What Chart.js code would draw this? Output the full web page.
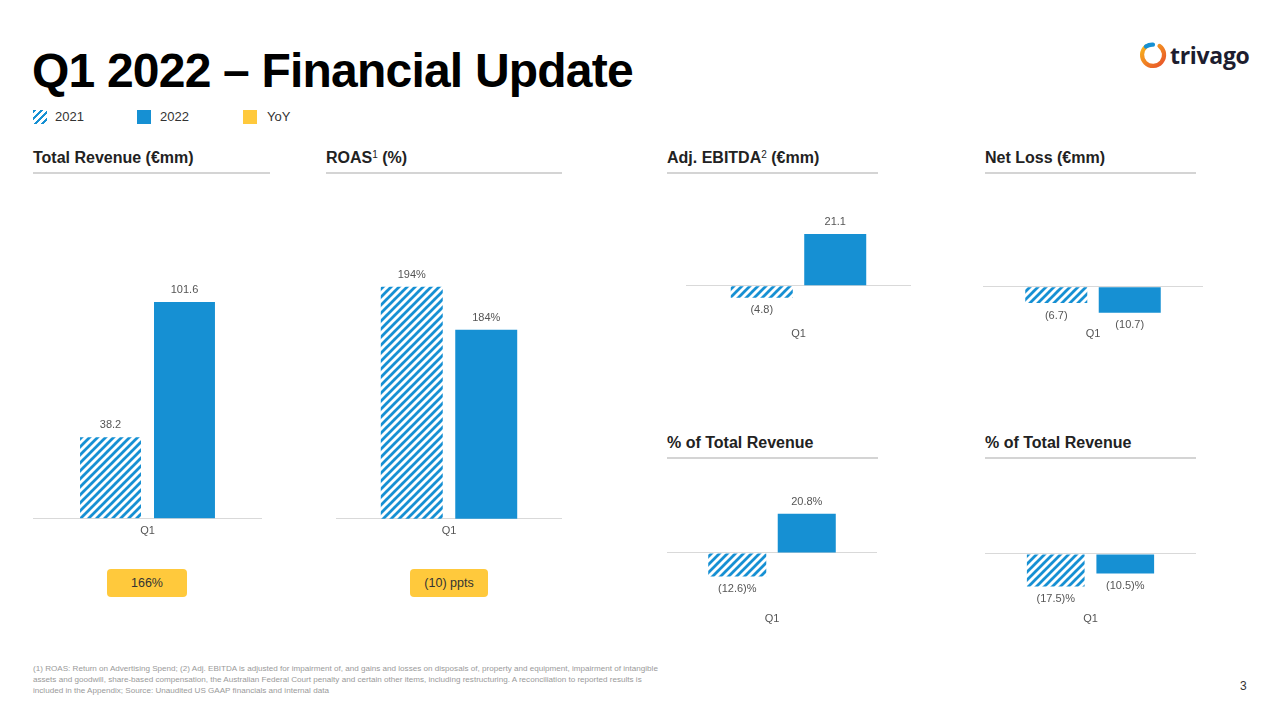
<!DOCTYPE html>
<html><head><meta charset="utf-8">
<script src="https://cdn.jsdelivr.net/npm/chart.js@4/dist/chart.umd.min.js"></script>
<style>
html,body{margin:0;padding:0;background:#fff;}
body{width:1280px;height:720px;position:relative;overflow:hidden;font-family:"Liberation Sans",Arial,sans-serif;color:#222;}
.abs{position:absolute;}
#title{left:32px;top:47px;font-size:48px;font-weight:bold;line-height:48px;letter-spacing:-0.8px;color:#000;white-space:nowrap;}
.leg{font-size:13px;color:#333;top:110px;line-height:14px;}
.sw{width:14px;height:14px;top:110px;}
.sec{font-size:16px;font-weight:bold;color:#222;line-height:18px;white-space:nowrap;}
.sec sup{font-size:10px;font-weight:normal;vertical-align:5px;line-height:0;}
.rule{height:2px;background:#d4d4d4;}
.yoy{height:28px;line-height:28px;background:#ffc93c;border-radius:4px;text-align:center;font-size:12.5px;color:#333;}
#foot{left:33px;top:663px;font-size:8.1px;line-height:11px;color:#9a9a9a;white-space:nowrap;}
canvas{position:absolute;}
</style></head><body>
<div id="title" class="abs">Q1 2022 – Financial Update</div>

<div class="abs sw" style="left:33px;background:repeating-linear-gradient(135deg,#1690d3 0 2.5px,#fff 2.5px 5px);"></div>
<div class="abs leg" style="left:55px;">2021</div>
<div class="abs sw" style="left:137px;background:#1690d3;"></div>
<div class="abs leg" style="left:160px;">2022</div>
<div class="abs sw" style="left:243px;background:#ffc93c;"></div>
<div class="abs leg" style="left:267px;">YoY</div>

<div class="abs sec" style="left:33px;top:149px;">Total Revenue (€mm)</div>
<div class="abs rule" style="left:33px;top:172px;width:237px;"></div>
<div class="abs sec" style="left:326px;top:149px;">ROAS<sup>1</sup> (%)</div>
<div class="abs rule" style="left:326px;top:172px;width:236px;"></div>
<div class="abs sec" style="left:667px;top:149px;">Adj. EBITDA<sup>2</sup> (€mm)</div>
<div class="abs rule" style="left:667px;top:172px;width:211px;"></div>
<div class="abs sec" style="left:985px;top:149px;">Net Loss (€mm)</div>
<div class="abs rule" style="left:985px;top:172px;width:211px;"></div>
<div class="abs sec" style="left:667px;top:434px;">% of Total Revenue</div>
<div class="abs rule" style="left:667px;top:457px;width:211px;"></div>
<div class="abs sec" style="left:985px;top:434px;">% of Total Revenue</div>
<div class="abs rule" style="left:985px;top:457px;width:211px;"></div>

<div id="yoy1" class="abs yoy" style="left:107px;top:569px;width:80px;"></div>
<div id="yoy2" class="abs yoy" style="left:410px;top:569px;width:78px;"></div>

<svg class="abs" style="left:1138px;top:41px;" width="30" height="30" viewBox="0 0 30 30">
  <defs><linearGradient id="g" x1="0" y1="0" x2="1" y2="1"><stop offset="0" stop-color="#f7b21c"/><stop offset="1" stop-color="#e8512a"/></linearGradient></defs>
  <path d="M8 5.5 A11 11 0 1 0 21.5 5" fill="none" stroke="url(#g)" stroke-width="4.2" stroke-linecap="round"/>
  <path d="M8 5.5 A11 11 0 0 1 15 3.6" fill="none" stroke="#1690d3" stroke-width="4.2" stroke-linecap="round"/>
</svg>
<div class="abs" style="left:1170px;top:41px;font-family:'Open Sans',sans-serif;font-weight:bold;font-size:23px;line-height:28px;color:#1d1d2f;letter-spacing:-0.3px;">trivago</div>

<div id="foot" class="abs">(1) ROAS: Return on Advertising Spend; (2) Adj. EBITDA is adjusted for impairment of, and gains and losses on disposals of, property and equipment, impairment of intangible<br>assets and goodwill, share-based compensation, the Australian Federal Court penalty and certain other items, including restructuring. A reconciliation to reported results is<br>included in the Appendix; Source: Unaudited US GAAP financials and internal data</div>
<div class="abs" style="left:1240px;top:679px;font-size:12px;color:#333;">3</div>

<canvas id="c1"></canvas><canvas id="c2"></canvas><canvas id="c3"></canvas>
<canvas id="c4"></canvas><canvas id="c5"></canvas><canvas id="c6"></canvas>

<script>
// ---------- DATA ----------
const categories = ['Q1'];
const seriesNames = ['2021', '2022'];
const revenue2021 = [38.2];
const revenue2022 = [101.6];
const roas2021 = [194];
const roas2022 = [184];
const ebitda2021 = [-4.8];
const ebitda2022 = [21.1];
const netLoss2021 = [-6.7];
const netLoss2022 = [-10.7];
const ebitdaMargin2021 = [-12.6];
const ebitdaMargin2022 = [20.8];
const netLossMargin2021 = [-17.5];
const netLossMargin2022 = [-10.5];
const yoyLabels = ['166%', '(10) ppts'];

document.getElementById('yoy1').textContent = yoyLabels[0];
document.getElementById('yoy2').textContent = yoyLabels[1];

// ---------- STYLE ----------
const BLUE = '#1690d3';
function hatch() {
  const c = document.createElement('canvas');
  c.width = 8; c.height = 8;
  const x = c.getContext('2d');
  x.strokeStyle = BLUE; x.lineWidth = 2.8;
  x.beginPath();
  x.moveTo(0, 8); x.lineTo(8, 0);
  x.moveTo(-2, 2); x.lineTo(2, -2);
  x.moveTo(6, 10); x.lineTo(10, 6);
  x.stroke();
  return x.createPattern(c, 'repeat');
}
const HATCH = hatch();

const fmtNum = v => v < 0 ? '(' + Math.abs(v).toFixed(1) + ')' : v.toFixed(1);
const fmtPct = v => v < 0 ? '(' + Math.abs(v).toFixed(1) + ')%' : v.toFixed(1) + '%';
const fmtInt = v => Math.round(v) + '%';

const valueLabels = {
  id: 'valueLabels',
  afterDatasetsDraw(chart, args, opts) {
    const ctx = chart.ctx;
    ctx.save();
    ctx.font = '11px "Liberation Sans", Arial, sans-serif';
    ctx.fillStyle = '#555';
    ctx.textAlign = 'center';
    ctx.textBaseline = 'middle';
    chart.data.datasets.forEach((ds, i) => {
      chart.getDatasetMeta(i).data.forEach((bar, j) => {
        const v = ds.data[j];
        const y = v >= 0 ? bar.y - 12 : bar.y + 12.5;
        ctx.fillText(opts.fmt(v), bar.x, y);
      });
    });
    ctx.restore();
  }
};

const PAD = 6;
const AXIS_H = 13.2 + 2 * PAD;

function makeChart(id, d21, d22, fmt, g) {
  const cv = document.getElementById(id);
  cv.width = g.width;
  cv.height = Math.round(g.bottom - g.top + AXIS_H);
  cv.style.left = g.left + 'px';
  cv.style.top = g.top + 'px';
  const base = g.base || 0;
  const yMin = base - (g.bottom - g.zeroY) / g.ppu;
  const yMax = base + (g.zeroY - g.top) / g.ppu;
  return new Chart(cv, {
    type: 'bar',
    data: {
      labels: categories,
      datasets: [
        { label: seriesNames[0], data: d21, backgroundColor: HATCH, borderWidth: 0 },
        { label: seriesNames[1], data: d22, backgroundColor: BLUE, borderWidth: 0 }
      ]
    },
    options: {
      responsive: false, animation: false, devicePixelRatio: 1,
      layout: { padding: 0 },
      categoryPercentage: g.catPct, barPercentage: g.barPct,
      plugins: { legend: { display: false }, tooltip: { enabled: false }, valueLabels: { fmt } },
      scales: {
        x: {
          grid: { display: false, drawTicks: false }, border: { display: false },
          ticks: { padding: PAD, color: '#555', font: { size: 11, family: '"Liberation Sans", Arial, sans-serif' } }
        },
        y: {
          min: yMin, max: yMax, base: base,
          border: { display: false },
          ticks: { display: false },
          afterBuildTicks: s => { s.ticks = [{ value: base }]; },
          grid: { drawTicks: false, color: '#d9d9d9', lineWidth: 1 }
        }
      }
    },
    plugins: [valueLabels]
  });
}

makeChart('c1', revenue2021, revenue2022, fmtNum,
  { left: 33, width: 229, top: 190, bottom: 519, zeroY: 519, ppu: 2.136, catPct: 0.646, barPct: 0.824 });
makeChart('c2', roas2021, roas2022, fmtInt,
  { left: 336, width: 226, top: 190, bottom: 519, zeroY: 519, ppu: 4.3, base: 140, catPct: 0.659, barPct: 0.832 });
makeChart('c3', ebitda2021, ebitda2022, fmtNum,
  { left: 686, width: 225, top: 190, bottom: 322, zeroY: 286, ppu: 2.46, catPct: 0.653, barPct: 0.844 });
makeChart('c4', netLoss2021, netLoss2022, fmtNum,
  { left: 983, width: 220, top: 190, bottom: 322, zeroY: 287, ppu: 2.42, catPct: 0.668, barPct: 0.844 });
makeChart('c5', ebitdaMargin2021, ebitdaMargin2022, fmtPct,
  { left: 667, width: 210, top: 470, bottom: 607, zeroY: 553, ppu: 1.88, catPct: 0.662, barPct: 0.835 });
makeChart('c6', netLossMargin2021, netLossMargin2022, fmtPct,
  { left: 985, width: 211, top: 470, bottom: 607, zeroY: 554, ppu: 1.87, catPct: 0.659, barPct: 0.83 });
</script>
</body></html>
